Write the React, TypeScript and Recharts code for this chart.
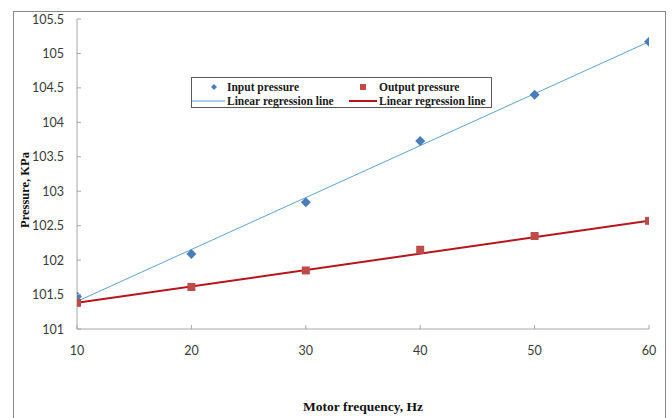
import React from "react";
import {
  ComposedChart,
  Scatter,
  Line,
  XAxis,
  YAxis,
  Legend,
} from "recharts";

// motor frequency, Hz
const frequencies = [10, 20, 30, 40, 50, 60];
// measured pressures, KPa
const inputPressure = [101.47, 102.09, 102.84, 103.73, 104.4, 105.17];
const outputPressure = [101.38, 101.61, 101.85, 102.15, 102.35, 102.57];
// end points of the fitted lines
const fitFrequencies = [10, 60];
const inputFit = [101.4, 105.17];
const outputFit = [101.38, 102.57];

const xTicks = [10, 20, 30, 40, 50, 60];
const yTicks = [101, 101.5, 102, 102.5, 103, 103.5, 104, 104.5, 105, 105.5];

const BLUE_MARK = "#4A7EBB";
const BLUE_LINE = "#5FA3CF";
const RED_MARK = "#BE4B48";
const RED_LINE = "#B8141B";
const AXIS = "#a6a6a6";

const inputPoints = frequencies.map((x, i) => ({ x, y: inputPressure[i] }));
const outputPoints = frequencies.map((x, i) => ({ x, y: outputPressure[i] }));
const inputLine = fitFrequencies.map((x, i) => ({ x, y: inputFit[i] }));
const outputLine = fitFrequencies.map((x, i) => ({ x, y: outputFit[i] }));

const tickFont = "Lato, sans-serif";
const serif = "'Liberation Serif', 'Times New Roman', serif";

// ticks sit inside the plot, so the tick line is drawn here with the label
function YTick(props: any) {
  const { x, y, payload } = props;
  const ax = x + 13;
  return (
    <g>
      <line x1={ax} x2={ax + 4} y1={y} y2={y} stroke={AXIS} />
      <text x={x} y={y} dy="0.36em" textAnchor="end" fill="#3a3a3a" fontSize={12.5} fontFamily={tickFont}>
        {payload.value}
      </text>
    </g>
  );
}

function XTick(props: any) {
  const { x, y, payload } = props;
  const ay = y - 14;
  return (
    <g>
      <line x1={x} x2={x} y1={ay} y2={ay - 4} stroke={AXIS} />
      <text x={x} y={y + 7} dy="0.36em" textAnchor="middle" fill="#3a3a3a" fontSize={12.5} fontFamily={tickFont}>
        {payload.value}
      </text>
    </g>
  );
}

function Diamond(props: any) {
  const { cx, cy } = props;
  const r = 5;
  return (
    <polygon
      points={`${cx},${cy - r} ${cx + r},${cy} ${cx},${cy + r} ${cx - r},${cy}`}
      fill={BLUE_MARK}
    />
  );
}

function Square(props: any) {
  const { cx, cy } = props;
  const h = 4;
  return <rect x={cx - h} y={cy - h} width={h * 2} height={h * 2} fill={RED_MARK} />;
}

function LegendBox() {
  const txt = {
    fontFamily: serif,
    fontSize: 11.5,
    fontWeight: 700,
    fill: "#1a1a1a",
    dominantBaseline: "central" as const,
  };
  return (
    <svg width={301} height={31} style={{ display: "block", background: "#fff" }}>
      <rect x={0.5} y={0.5} width={300} height={30} fill="#fff" stroke="#5a5a5a" />
      <polygon points="23,7 26,10 23,13 20,10" fill={BLUE_MARK} />
      <rect x={169} y={7} width={6} height={6} fill={RED_MARK} />
      <line x1={1} x2={34} y1={24} y2={24} stroke={BLUE_LINE} strokeWidth={1} />
      <line x1={158} x2={186} y1={24} y2={24} stroke={RED_LINE} strokeWidth={2} />
      <text x={36} y={10} {...txt}>Input pressure</text>
      <text x={188} y={10} {...txt}>Output pressure</text>
      <text x={36} y={24} {...txt}>Linear regression line</text>
      <text x={188} y={24} {...txt}>Linear regression line</text>
    </svg>
  );
}

export default function App() {
  return (
    <div style={{ position: "absolute", left: 0, top: 0, width: 672, height: 418, background: "#fff", overflow: "hidden" }}>
      <div
        style={{
          position: "absolute",
          left: 13,
          top: 11,
          width: 653,
          height: 420,
          border: "1px solid #8a8a8a",
          boxSizing: "border-box",
        }}
      />
      <ComposedChart
        width={672}
        height={418}
        margin={{ top: 19, right: 23, bottom: 0, left: 17 }}
        style={{ position: "absolute", left: 0, top: 0 }}
      >
        <XAxis
          type="number"
          dataKey="x"
          domain={[10, 60]}
          ticks={xTicks}
          tick={XTick}
          tickLine={false}
          tickSize={5}
          tickMargin={9}
          height={58}
          stroke={AXIS}
          allowDataOverflow
        />
        <YAxis
          type="number"
          dataKey="y"
          domain={[101, 105.5]}
          ticks={yTicks}
          tick={YTick}
          tickLine={false}
          tickSize={5}
          tickMargin={8}
          width={60}
          stroke={AXIS}
          allowDataOverflow
        />
        <Line
          data={inputLine}
          dataKey="y"
          type="linear"
          stroke={BLUE_LINE}
          strokeWidth={1}
          dot={false}
          activeDot={false}
          isAnimationActive={false}
        />
        <Line
          data={outputLine}
          dataKey="y"
          type="linear"
          stroke={RED_LINE}
          strokeWidth={2}
          dot={false}
          activeDot={false}
          isAnimationActive={false}
        />
        <Scatter data={inputPoints} dataKey="y" shape={Diamond} isAnimationActive={false} />
        <Scatter data={outputPoints} dataKey="y" shape={Square} isAnimationActive={false} />
        <Legend
          content={() => <LegendBox />}
          wrapperStyle={{ position: "absolute", left: 191, top: 77, width: 301 }}
        />
      </ComposedChart>
      {/* axis titles */}
      <svg width={672} height={418} style={{ position: "absolute", left: 0, top: 0, pointerEvents: "none" }}>
        <text
          x={363}
          y={406}
          textAnchor="middle"
          dominantBaseline="central"
          fontFamily={serif}
          fontWeight={700}
          fontSize={13.5}
          fill="#111"
        >
          Motor frequency, Hz
        </text>
        <text
          x={25}
          y={190}
          transform="rotate(-90 25 190)"
          textAnchor="middle"
          dominantBaseline="central"
          fontFamily={serif}
          fontWeight={700}
          fontSize={12.5}
          fill="#111"
        >
          Pressure, KPa
        </text>
      </svg>
    </div>
  );
}
